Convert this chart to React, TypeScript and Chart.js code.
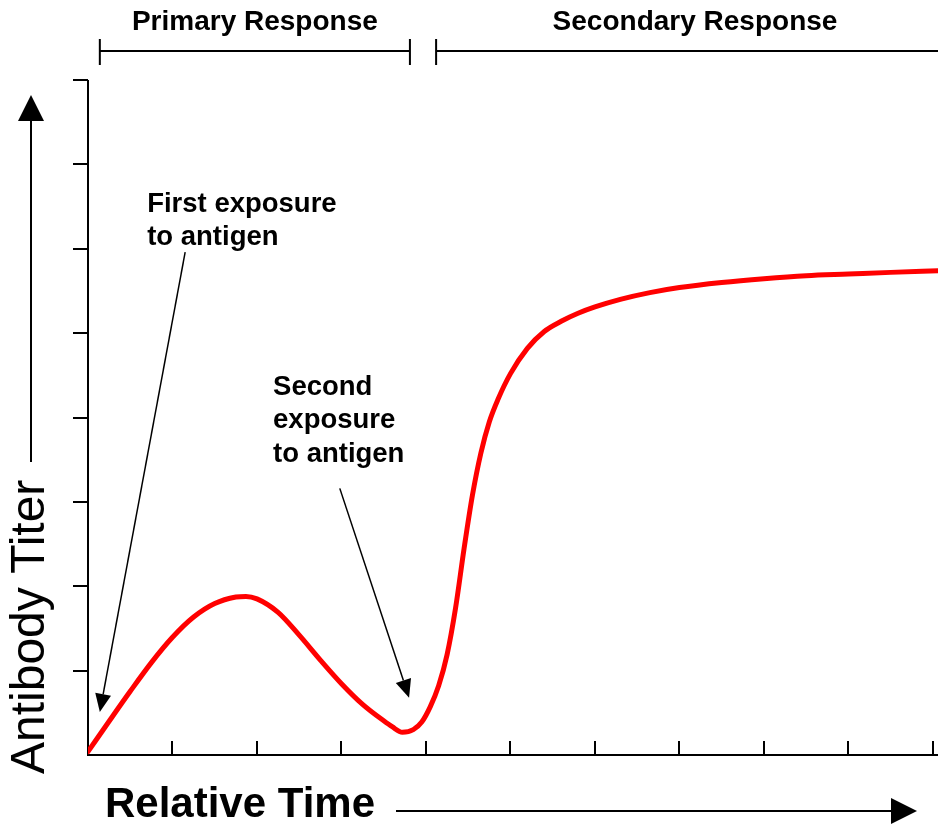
import React, { useEffect, useRef } from 'react';
import { Chart, registerables } from 'chart.js';

Chart.register(...registerables);

// ---- data ----
const timeValues = [0, 0.25, 0.5, 0.75, 1.0, 1.25, 1.5, 1.75, 1.87, 2.0, 2.25, 2.5, 2.75, 3.0, 3.25, 3.5, 3.6, 3.72, 3.85, 3.95, 4.05, 4.15, 4.25, 4.35, 4.45, 4.55, 4.65, 4.75, 4.85, 5.0, 5.2, 5.4, 5.6, 5.8, 6.0, 6.3, 6.65, 7.0, 7.5, 8.0, 8.5, 9.0, 9.5, 10.06];
const titerValues = [0.04, 0.40, 0.755, 1.095, 1.395, 1.635, 1.795, 1.872, 1.88, 1.85, 1.69, 1.42, 1.125, 0.845, 0.60, 0.405, 0.335, 0.27, 0.30, 0.39, 0.57, 0.82, 1.19, 1.74, 2.44, 3.08, 3.58, 3.95, 4.21, 4.52, 4.82, 5.02, 5.14, 5.235, 5.31, 5.40, 5.48, 5.54, 5.60, 5.645, 5.68, 5.70, 5.72, 5.74];

const xTickValues = [1, 2, 3, 4, 5, 6, 7, 8, 9, 10];
const yTickValues = [1, 2, 3, 4, 5, 6, 7, 8];
const X_MIN = 0;
const X_MAX = 10.06;
const Y_MIN = 0;
const Y_MAX = 8;

const phaseLabels = ['Primary Response', 'Secondary Response'];
const phaseStarts = [0.14, 4.12];
const phaseEnds = [3.81, 10.06];

const exposureLabels = [['First exposure', 'to antigen'], ['Second', 'exposure', 'to antigen']];
const exposureTextX = [0.70, 2.19];
const exposureTextY = [6.44, 4.27];
const arrowFromX = [1.15, 2.98];
const arrowFromY = [5.96, 3.16];
const arrowToX = [0.14, 3.80];
const arrowToY = [0.51, 0.68];

const xAxisTitle = 'Relative Time';
const yAxisTitle = 'Antibody Titer';

const FONT = '"Liberation Sans", Arial, Helvetica, sans-serif';

function arrowHead(ctx: CanvasRenderingContext2D, x1: number, y1: number, x2: number, y2: number, len: number, half: number) {
  const ang = Math.atan2(y2 - y1, x2 - x1);
  const bx = x2 - len * Math.cos(ang);
  const by = y2 - len * Math.sin(ang);
  const px = -Math.sin(ang) * half;
  const py = Math.cos(ang) * half;
  ctx.beginPath();
  ctx.moveTo(x2, y2);
  ctx.lineTo(bx + px, by + py);
  ctx.lineTo(bx - px, by - py);
  ctx.closePath();
  ctx.fill();
  return [bx, by];
}

const axesPlugin = {
  id: 'axesPlugin',
  beforeDatasetsDraw(chart: any) {
    const { ctx, chartArea } = chart;
    const xs = chart.scales.x;
    const ys = chart.scales.y;
    ctx.save();
    ctx.strokeStyle = '#000';
    ctx.lineWidth = 2;
    ctx.lineCap = 'butt';
    ctx.beginPath();
    ctx.moveTo(chartArea.left, ys.getPixelForValue(Y_MAX));
    ctx.lineTo(chartArea.left, ys.getPixelForValue(Y_MIN) + 1);
    ctx.stroke();
    yTickValues.forEach((v) => {
      const y = Math.round(ys.getPixelForValue(v));
      ctx.beginPath();
      ctx.moveTo(chartArea.left - 15, y);
      ctx.lineTo(chartArea.left, y);
      ctx.stroke();
    });
    const yb = ys.getPixelForValue(Y_MIN);
    ctx.beginPath();
    ctx.moveTo(chartArea.left - 1, yb);
    ctx.lineTo(chartArea.right, yb);
    ctx.stroke();
    xTickValues.forEach((v) => {
      const x = Math.round(xs.getPixelForValue(v));
      ctx.beginPath();
      ctx.moveTo(x, yb - 14);
      ctx.lineTo(x, yb);
      ctx.stroke();
    });
    ctx.restore();
  },
  afterDatasetsDraw(chart: any) {
    const { ctx, chartArea } = chart;
    const xs = chart.scales.x;
    const ys = chart.scales.y;
    ctx.save();
    ctx.fillStyle = '#000';
    ctx.strokeStyle = '#000';

    ctx.lineWidth = 2;
    phaseLabels.forEach((label, i) => {
      const x1 = xs.getPixelForValue(phaseStarts[i]);
      const x2 = Math.min(xs.getPixelForValue(phaseEnds[i]), chartArea.right + 2);
      const yl = 51;
      ctx.beginPath();
      ctx.moveTo(x1, yl);
      ctx.lineTo(x2, yl);
      ctx.moveTo(x1, 39);
      ctx.lineTo(x1, 65);
      if (phaseEnds[i] < X_MAX) {
        ctx.moveTo(x2, 39);
        ctx.lineTo(x2, 65);
      }
      ctx.stroke();
      ctx.font = `bold 28px ${FONT}`;
      ctx.textAlign = 'center';
      ctx.textBaseline = 'alphabetic';
      const cx = i === 0 ? (x1 + x2) / 2 : 695;
      ctx.fillText(label, cx, 30);
    });

    ctx.font = `bold 27.5px ${FONT}`;
    ctx.textAlign = 'left';
    ctx.textBaseline = 'alphabetic';
    exposureLabels.forEach((lines, i) => {
      const tx = xs.getPixelForValue(exposureTextX[i]);
      const ty = ys.getPixelForValue(exposureTextY[i]);
      lines.forEach((ln, j) => ctx.fillText(ln, tx, ty + j * 33.5));
      const fx = xs.getPixelForValue(arrowFromX[i]);
      const fy = ys.getPixelForValue(arrowFromY[i]);
      const tx2 = xs.getPixelForValue(arrowToX[i]);
      const ty2 = ys.getPixelForValue(arrowToY[i]);
      const [bx, by] = arrowHead(ctx, fx, fy, tx2, ty2, 18, 8);
      ctx.lineWidth = 1.5;
      ctx.beginPath();
      ctx.moveTo(fx, fy);
      ctx.lineTo(bx, by);
      ctx.stroke();
    });

    ctx.font = `bold 42px ${FONT}`;
    ctx.textAlign = 'left';
    ctx.fillText(xAxisTitle, 105, 817);
    ctx.lineWidth = 2;
    ctx.beginPath();
    ctx.moveTo(396, 811);
    ctx.lineTo(892, 811);
    ctx.stroke();
    arrowHead(ctx, 396, 811, 917, 811, 26, 13);

    ctx.save();
    ctx.translate(44, 774);
    ctx.rotate(-Math.PI / 2);
    ctx.font = `48px ${FONT}`;
    ctx.textAlign = 'left';
    ctx.fillText(yAxisTitle, 0, 0);
    ctx.restore();
    ctx.beginPath();
    ctx.moveTo(31, 462);
    ctx.lineTo(31, 120);
    ctx.stroke();
    arrowHead(ctx, 31, 462, 31, 95, 26, 13);

    ctx.restore();
  },
};

export default function App() {
  const canvasRef = useRef<HTMLCanvasElement | null>(null);

  useEffect(() => {
    const canvas = canvasRef.current;
    if (!canvas) return;
    const chart = new Chart(canvas, {
      type: 'line',
      data: {
        datasets: [
          {
            data: timeValues.map((x, i) => ({ x, y: titerValues[i] })),
            borderColor: '#ff0000',
            borderWidth: 5,
            pointRadius: 0,
            fill: false,
            cubicInterpolationMode: 'monotone',
            borderCapStyle: 'round',
            borderJoinStyle: 'round',
          },
        ],
      },
      options: {
        responsive: false,
        maintainAspectRatio: false,
        devicePixelRatio: 1,
        animation: false,
        layout: { padding: { left: 88, top: 80, right: 0, bottom: 69 } },
        plugins: { legend: { display: false }, tooltip: { enabled: false } },
        scales: {
          x: { type: 'linear', min: X_MIN, max: X_MAX, display: false },
          y: { type: 'linear', min: Y_MIN, max: Y_MAX, display: false },
        },
      },
      plugins: [axesPlugin],
    } as any);
    return () => chart.destroy();
  }, []);

  return (
    <div style={{ position: 'fixed', left: 0, top: 0, width: 938, height: 824, background: '#fff' }}>
      <canvas ref={canvasRef} width={938} height={824} style={{ display: 'block', width: 938, height: 824 }} />
    </div>
  );
}
